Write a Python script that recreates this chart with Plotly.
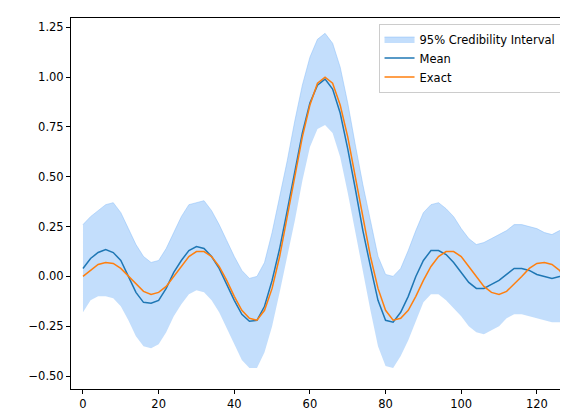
import plotly.graph_objects as go

x = list(range(0, 127, 2)) + [127]
exact = [0.00,0.03,0.06,0.07,0.065,0.04,0.0,-0.04,-0.075,-0.09,-0.08,-0.05,0.0,0.05,0.10,0.125,0.125,0.10,0.05,-0.02,-0.10,-0.17,-0.21,-0.22,-0.17,-0.06,0.10,0.30,0.50,0.70,0.86,0.97,1.0,0.97,0.86,0.70,0.50,0.30,0.10,-0.06,-0.17,-0.22,-0.21,-0.17,-0.10,-0.02,0.05,0.10,0.125,0.125,0.10,0.05,0.0,-0.05,-0.08,-0.09,-0.075,-0.04,0.0,0.04,0.065,0.07,0.06,0.03,0.0]
mean = [0.04,0.09,0.12,0.135,0.12,0.08,0.0,-0.08,-0.13,-0.135,-0.12,-0.06,0.02,0.08,0.13,0.15,0.14,0.10,0.04,-0.04,-0.12,-0.19,-0.225,-0.22,-0.15,-0.02,0.14,0.33,0.52,0.72,0.87,0.96,0.99,0.94,0.82,0.64,0.44,0.23,0.05,-0.12,-0.22,-0.23,-0.18,-0.10,0.0,0.08,0.13,0.13,0.11,0.07,0.02,-0.03,-0.06,-0.06,-0.04,-0.02,0.01,0.04,0.04,0.03,0.01,0.0,-0.01,0.0,0.0]
upper = [0.26,0.30,0.33,0.36,0.37,0.32,0.24,0.16,0.10,0.07,0.08,0.14,0.22,0.30,0.36,0.37,0.38,0.33,0.26,0.18,0.10,0.03,-0.01,0.0,0.07,0.22,0.40,0.58,0.78,0.96,1.10,1.19,1.22,1.17,1.05,0.87,0.66,0.46,0.28,0.10,0.01,0.0,0.04,0.13,0.23,0.32,0.36,0.37,0.34,0.30,0.24,0.19,0.16,0.17,0.19,0.21,0.23,0.26,0.26,0.25,0.24,0.22,0.21,0.23,0.22]
lower = [-0.18,-0.12,-0.10,-0.10,-0.11,-0.15,-0.22,-0.30,-0.35,-0.36,-0.34,-0.28,-0.20,-0.14,-0.09,-0.07,-0.08,-0.12,-0.18,-0.26,-0.34,-0.42,-0.46,-0.46,-0.38,-0.25,-0.08,0.10,0.28,0.48,0.65,0.74,0.76,0.72,0.60,0.42,0.22,0.02,-0.17,-0.35,-0.45,-0.46,-0.40,-0.32,-0.22,-0.13,-0.09,-0.09,-0.12,-0.16,-0.20,-0.25,-0.28,-0.29,-0.27,-0.25,-0.21,-0.19,-0.19,-0.20,-0.21,-0.22,-0.23,-0.23,-0.23]

fig = go.Figure()
fig.add_trace(go.Scatter(x=x, y=lower, mode="lines", line=dict(width=0), showlegend=False, hoverinfo="skip"))
fig.add_trace(go.Scatter(x=x, y=upper, mode="lines", line=dict(width=1, color="rgba(135,190,250,0.5)"), fill="tonexty",
                         fillcolor="rgba(135,190,250,0.5)", name="95% Credibility Interval"))
fig.add_trace(go.Scatter(x=x, y=mean, mode="lines", line=dict(color="#1f77b4", width=1.5), name="Mean"))
fig.add_trace(go.Scatter(x=x, y=exact, mode="lines", line=dict(color="#ff7f0e", width=1.5), name="Exact"))

ax = dict(showgrid=False, zeroline=False, showline=True, mirror=True, linecolor="black", linewidth=1,
          ticks="outside", ticklen=4, tickcolor="black", automargin=False)
fig.update_layout(
    width=568, height=413, plot_bgcolor="white", paper_bgcolor="white",
    margin=dict(l=63, r=7, t=10, b=32),
    font=dict(family="DejaVu Sans", size=11.5, color="black"),
    xaxis=dict(range=[-3.17, 128.5], tickvals=[0,20,40,60,80,100,120], **ax),
    yaxis=dict(range=[-0.565, 1.297], tickvals=[-0.5,-0.25,0,0.25,0.5,0.75,1.0,1.25],
               ticktext=["−0.50","−0.25","0.00","0.25","0.50","0.75","1.00","1.25"], **ax),
    legend=dict(x=0.985, y=0.985, xanchor="right", yanchor="top", bordercolor="#cccccc", borderwidth=1,
                bgcolor="rgba(255,255,255,0.8)", font=dict(size=11.5), traceorder="normal"),
)
fig.write_html("out.html")
